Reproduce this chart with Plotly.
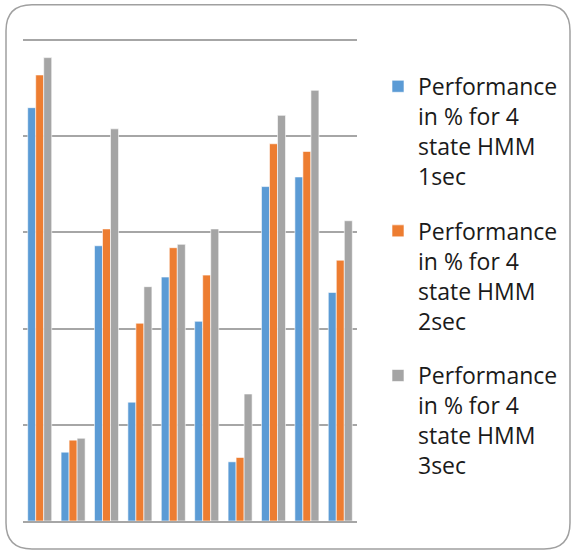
import plotly.graph_objects as go

categories = ["1", "2", "3", "4", "5", "6", "7", "8", "9", "10"]
perf_1sec = [85.9, 14.3, 57.2, 24.7, 50.7, 41.5, 12.3, 69.5, 71.5, 47.5]
perf_2sec = [92.7, 16.8, 60.7, 41.1, 56.8, 51.1, 13.2, 78.4, 76.8, 54.2]
perf_3sec = [96.3, 17.2, 81.5, 48.7, 57.5, 60.7, 26.4, 84.3, 89.5, 62.4]
series_names = [
    "Performance<br>in % for 4<br>state HMM<br>1sec",
    "Performance<br>in % for 4<br>state HMM<br>2sec",
    "Performance<br>in % for 4<br>state HMM<br>3sec",
]
colors = ["#5B9BD5", "#ED7D31", "#A5A5A5"]

fig = go.Figure()
for i, (name, vals, col) in enumerate(zip(series_names, [perf_1sec, perf_2sec, perf_3sec], colors)):
    fig.add_trace(go.Bar(
        x=categories, y=vals, name=name, legendgroup=f"g{i}",
        marker=dict(color=col, line=dict(color="white", width=0.6)),
    ))

W, H = 575, 555
YMAX = 101.0
L, R, B = 23, 357, 521
unit = (521 - 40) / 100.0
T = B - YMAX * unit
pw, ph = R - L, B - T

def px(x):
    return (x - L) / pw

def py(y):
    return (B - y) / ph

x0, x1, y0, y1, r = 6, 570, 5, 549, 26
path = (
    f"M {px(x0 + r)},{py(y0)} L {px(x1 - r)},{py(y0)} "
    f"Q {px(x1)},{py(y0)} {px(x1)},{py(y0 + r)} "
    f"L {px(x1)},{py(y1 - r)} Q {px(x1)},{py(y1)} {px(x1 - r)},{py(y1)} "
    f"L {px(x0 + r)},{py(y1)} Q {px(x0)},{py(y1)} {px(x0)},{py(y1 - r)} "
    f"L {px(x0)},{py(y0 + r)} Q {px(x0)},{py(y0)} {px(x0 + r)},{py(y0)} Z"
)

fig.update_layout(
    width=W, height=H,
    margin=dict(l=L, r=W - R, t=T, b=H - B, pad=0),
    paper_bgcolor="white", plot_bgcolor="white",
    barmode="group", bargap=0.28, bargroupgap=0.0,
    font=dict(family="Open Sans", color="#1a1a1a"),
    showlegend=True,
    legend=dict(
        x=px(378), y=py(65), xanchor="left", yanchor="top",
        font=dict(size=23, family="Open Sans", color="#1a1a1a"),
        valign="top", tracegroupgap=22, itemwidth=30,
        bgcolor="rgba(0,0,0,0)", traceorder="grouped",
    ),
    xaxis=dict(showticklabels=False, showgrid=False, ticks="",
               showline=True, linecolor="#a6a6a6", linewidth=1.5,
               zeroline=False),
    yaxis=dict(range=[0, YMAX], tickvals=[0, 20, 40, 60, 80, 100],
               showticklabels=False, ticks="",
               showgrid=True, gridcolor="#a6a6a6", gridwidth=1.5,
               zeroline=False, showline=False),
    shapes=[dict(type="path", xref="paper", yref="paper", path=path,
                 line=dict(color="#a0a0a0", width=1.5),
                 fillcolor="rgba(0,0,0,0)", layer="below")],
)

fig.write_html("out.html", config={"displayModeBar": False},
               post_script="document.body.style.margin='0';")
